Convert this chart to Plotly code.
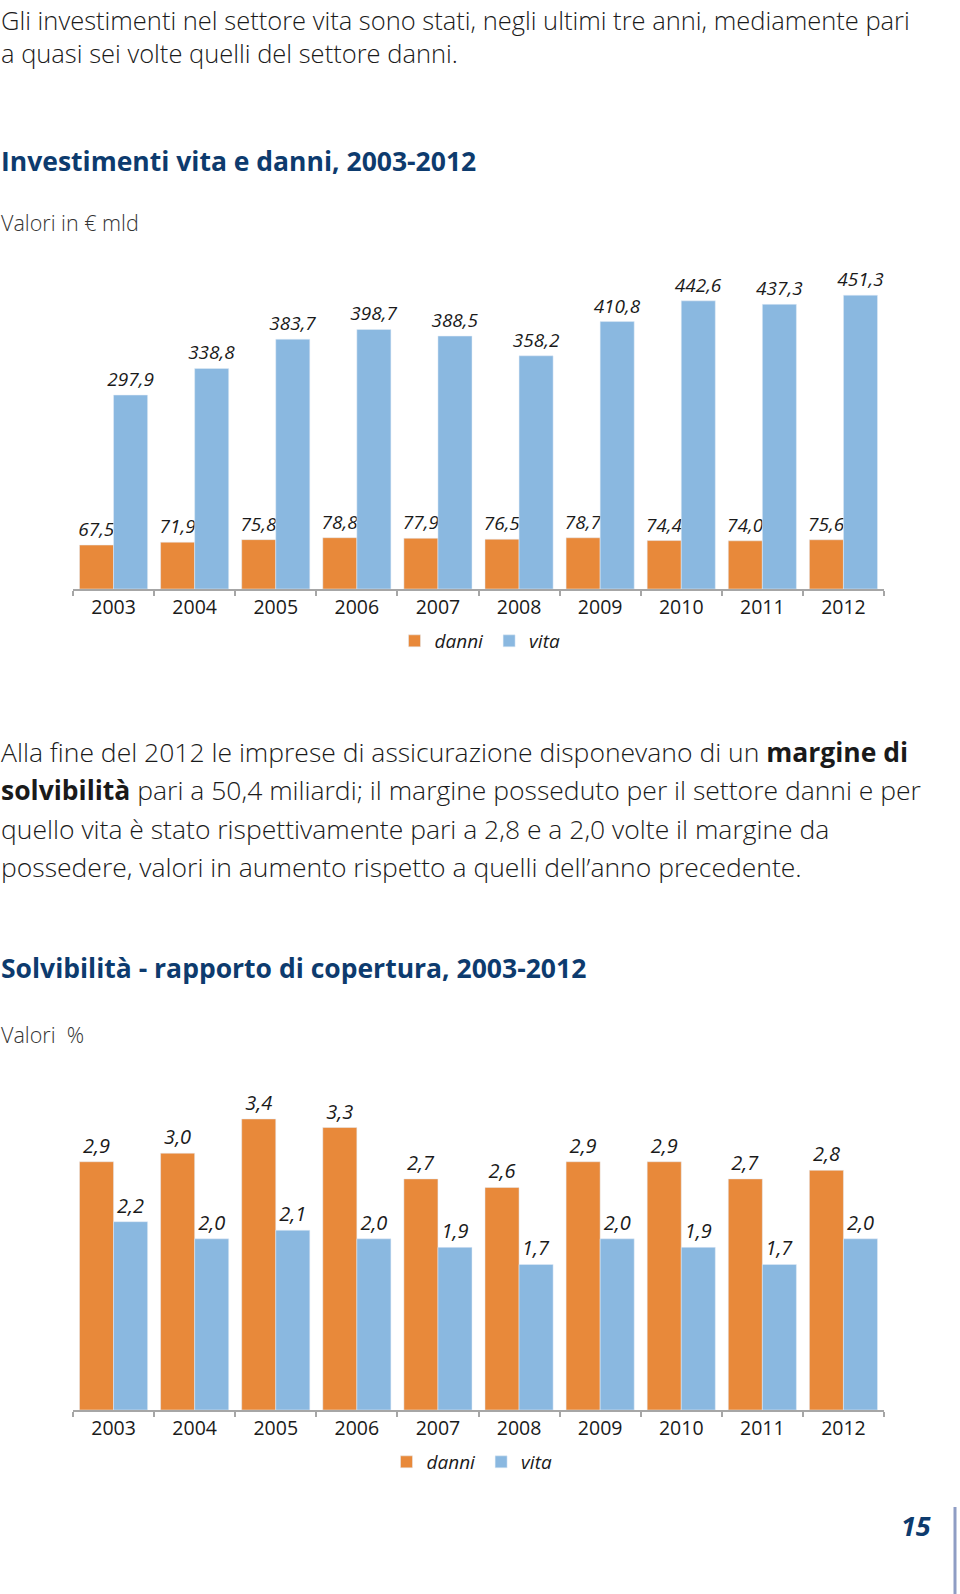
import plotly.graph_objects as go

W, H = 960, 1594

years = ["2003", "2004", "2005", "2006", "2007", "2008", "2009", "2010", "2011", "2012"]
inv_danni = [67.5, 71.9, 75.8, 78.8, 77.9, 76.5, 78.7, 74.4, 74.0, 75.6]
inv_vita = [297.9, 338.8, 383.7, 398.7, 388.5, 358.2, 410.8, 442.6, 437.3, 451.3]
solv_danni = [2.9, 3.0, 3.4, 3.3, 2.7, 2.6, 2.9, 2.9, 2.7, 2.8]
solv_vita = [2.2, 2.0, 2.1, 2.0, 1.9, 1.7, 2.0, 1.9, 1.7, 2.0]
series_names = ["danni", "vita"]

ORANGE = "#E8893A"
BLUE = "#8AB8E0"
NAVY = "#0D3B6E"
TXT = "#1a1a1a"
AX = "#a6a6a6"
FONT = "Open Sans"


def px_y(py):
    return 1 - py / H


fig = go.Figure()

lab1 = dict(family=FONT, size=19, style="italic", color=TXT)
lab2 = dict(family=FONT, size=20, style="italic", color=TXT)


def bar(x, y, name, color, font, xa, ya, lg):
    return go.Bar(x=x, y=y, name=name, marker_color=color, text=y,
                  texttemplate="%{y:.1f}", textposition="outside", constraintext="none",
                  textfont=font, cliponaxis=False, xaxis=xa, yaxis=ya, legend=lg,
                  hoverinfo="skip")


fig.add_trace(bar(years, inv_danni, series_names[0], ORANGE, lab1, "x", "y", "legend"))
fig.add_trace(bar(years, inv_vita, series_names[1], BLUE, lab1, "x", "y", "legend"))
fig.add_trace(bar(years, solv_danni, series_names[0], ORANGE, lab2, "x2", "y2", "legend2"))
fig.add_trace(bar(years, solv_vita, series_names[1], BLUE, lab2, "x2", "y2", "legend2"))

xax = dict(type="category", showline=True, linecolor=AX, linewidth=1.5, ticks="outside",
           tickson="boundaries", ticklen=5, tickcolor=AX, tickwidth=1.5,
           tickfont=dict(family=FONT, size=19.5, color=TXT), showgrid=False,
           domain=[73 / W, 884 / W], fixedrange=True)
yax = dict(visible=False, showgrid=False, zeroline=False, fixedrange=True)

legend_common = dict(orientation="h", xanchor="center", yanchor="middle",
                     font=dict(family=FONT, size=19, style="italic", color=TXT),
                     bgcolor="rgba(0,0,0,0)", itemwidth=30, traceorder="normal")

body1 = dict(family=FONT, size=25.5, color=TXT, weight=300)
body2 = dict(family=FONT, size=26.5, color=TXT, weight=300)
title_font = dict(family=FONT, size=26.5, color=NAVY)
sub_font = dict(family=FONT, size=21.5, color="#333333", weight=300)

annotations = []


def txt(text, x, y, font, xanchor="left"):
    annotations.append(dict(text=text, x=x / W, y=px_y(y), xref="paper", yref="paper",
                            xanchor=xanchor, yanchor="middle", showarrow=False, font=font,
                            align="left", borderpad=0))


txt("Gli investimenti nel settore vita sono stati, negli ultimi tre anni, mediamente pari", 0, 20, body1)
txt("a quasi sei volte quelli del settore danni.", 0, 53, body1)
txt("<b>Investimenti vita e danni, 2003-2012</b>", 0, 161, title_font)
txt("Valori in € mld", 0, 222, sub_font)

p2 = [
    "Alla fine del 2012 le imprese di assicurazione disponevano di un <b>margine di</b>",
    "<b>solvibilità</b> pari a 50,4 miliardi; il margine posseduto per il settore danni e per",
    "quello vita è stato rispettivamente pari a 2,8 e a 2,0 volte il margine da",
    "possedere, valori in aumento rispetto a quelli dell’anno precedente.",
]
for i, line in enumerate(p2):
    txt(line, 0, [752, 790, 829, 867][i], body2)

txt("<b>Solvibilità - rapporto di copertura, 2003-2012</b>", 0, 968, title_font)
txt("Valori  %", 0, 1034, sub_font)
txt("<b><i>15</i></b>", 932, 1525, dict(family=FONT, size=27, color=NAVY), xanchor="right")

fig.update_layout(
    width=W, height=H, margin=dict(l=0, r=0, t=0, b=0), autosize=False,
    paper_bgcolor="white", plot_bgcolor="white", separators=",.",
    barmode="group", bargap=0.16, bargroupgap=0,
    xaxis=dict(xax, anchor="y"),
    yaxis=dict(yax, domain=[px_y(589), px_y(260)], range=[0, 329 / 0.651]),
    xaxis2=dict(xax, anchor="y2"),
    yaxis2=dict(yax, domain=[px_y(1410), px_y(1080)], range=[0, 330 / 85.6]),
    legend=dict(legend_common, x=480 / W, y=px_y(641)),
    legend2=dict(legend_common, x=472 / W, y=px_y(1462)),
    annotations=annotations,
    shapes=[dict(type="line", xref="paper", yref="paper", x0=955 / W, x1=955 / W,
                 y0=px_y(1507), y1=px_y(1594), line=dict(color="#8f9dc4", width=3))],
    showlegend=True,
)

fig.write_html("out.html", config={"displayModeBar": False},
               post_script="document.body.style.margin='0';document.body.style.padding='0';")
